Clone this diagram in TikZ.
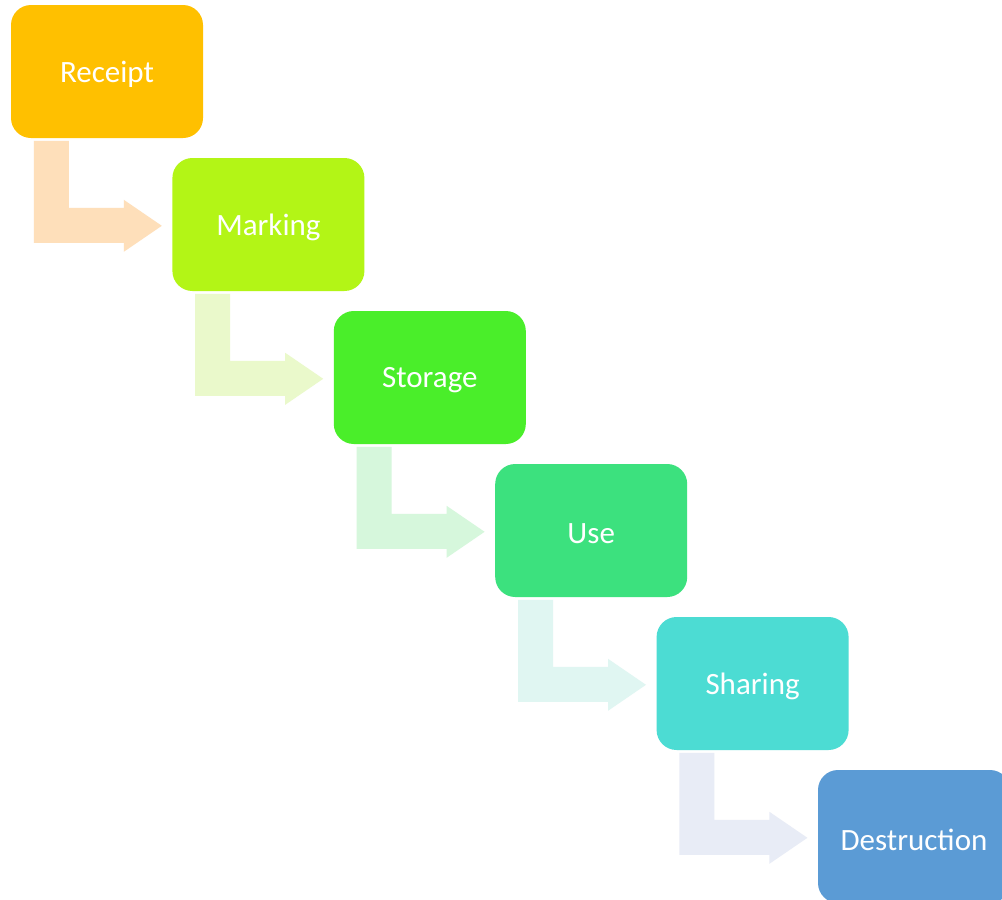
\documentclass[tikz,border=0pt]{standalone}
\usepackage{fontspec}
\setmainfont{Carlito}
\usetikzlibrary{calc}
\definecolor{cA}{HTML}{FFC000}
\definecolor{cB}{HTML}{B3F516}
\definecolor{cC}{HTML}{4AEE2A}
\definecolor{cD}{HTML}{3CE17E}
\definecolor{cE}{HTML}{4CDCD3}
\definecolor{cF}{HTML}{5B9BD5}
\definecolor{aA}{HTML}{FEDFBA}
\definecolor{aB}{HTML}{EAF9CB}
\definecolor{aC}{HTML}{D6F7DC}
\definecolor{aD}{HTML}{E0F6F2}
\definecolor{aE}{HTML}{E8ECF6}
\tikzset{
  stagebox/.style={rounded corners=20pt, minimum width=192pt, minimum height=133pt, inner sep=0pt, text=white, font=\fontsize{31}{36}\selectfont},
}
\newcommand{\stagetext}[1]{\raisebox{-3pt}[\height][\depth]{#1}}
\newcommand{\bentarrow}[2]{%
  \fill[#2] ($(#1.north west)+(23,136)$) -- ++(35,0) -- ++(0,67) -- ++(55,0) -- ++(0,-8) -- ++(38,26) -- ++(-38,26) -- ++(0,-9) -- ++(-90,0) -- cycle;%
}
\begin{document}
\begin{tikzpicture}[x=1pt,y=-1pt]
\useasboundingbox (0,0) rectangle (1002,900);
\clip (0,0) rectangle (1002,900);
\fill[white] (0,0) rectangle (1002,900);
\node[stagebox, fill=cA] (b0) at (107,71.5) {\stagetext{Receipt}};
\node[stagebox, fill=cB] (b1) at (268.4,224.5) {\stagetext{Marking}};
\node[stagebox, fill=cC] (b2) at (429.8,377.5) {\stagetext{Storage}};
\node[stagebox, fill=cD] (b3) at (591.2,530.5) {\stagetext{Use}};
\node[stagebox, fill=cE] (b4) at (752.6,683.5) {\stagetext{Sharing}};
\node[stagebox, fill=cF] (b5) at (914,836.5) {\stagetext{Destruction}};
\bentarrow{b0}{aA}
\bentarrow{b1}{aB}
\bentarrow{b2}{aC}
\bentarrow{b3}{aD}
\bentarrow{b4}{aE}
\end{tikzpicture}
\end{document}
